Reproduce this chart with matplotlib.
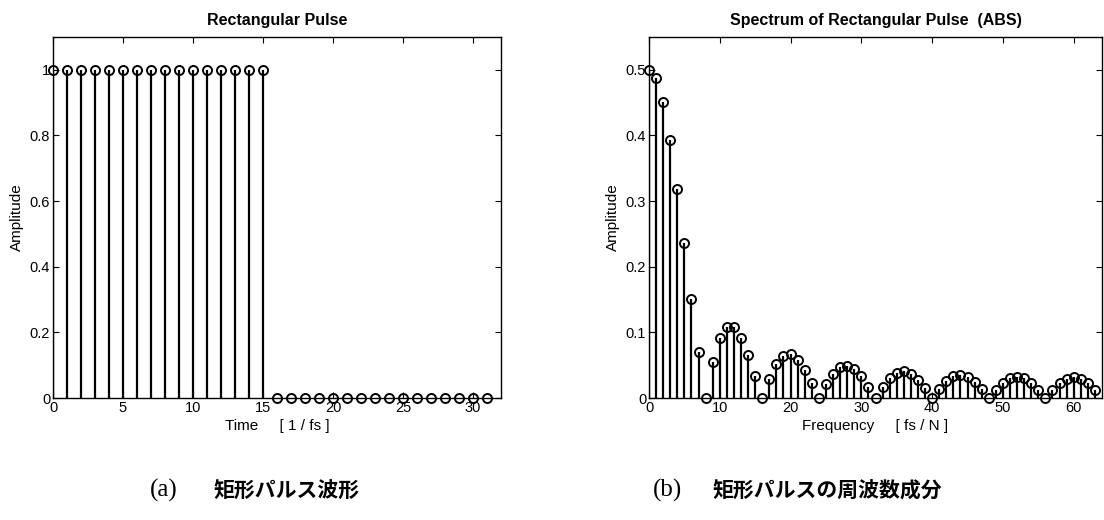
import matplotlib
matplotlib.use("Agg")
import matplotlib.pyplot as plt
import numpy as np

# ---- data ----
time_idx = list(range(32))
pulse_vals = [1]*16 + [0]*16

freq_idx = list(range(64))
spec_vals = [0.5000, 0.4873, 0.4503, 0.3925, 0.3188, 0.2359, 0.1506, 0.0700,
             0.0000, 0.0546, 0.0909, 0.1082, 0.1077, 0.0920, 0.0656, 0.0332,
             0.0000, 0.0295, 0.0517, 0.0642, 0.0663, 0.0586, 0.0430, 0.0224,
             0.0000, 0.0208, 0.0371, 0.0469, 0.0493, 0.0442, 0.0329, 0.0173,
             0.0000, 0.0165, 0.0298, 0.0381, 0.0404, 0.0366, 0.0275, 0.0146,
             0.0000, 0.0142, 0.0258, 0.0332, 0.0354, 0.0323, 0.0244, 0.0131,
             0.0000, 0.0128, 0.0235, 0.0304, 0.0327, 0.0300, 0.0228, 0.0123,
             0.0000, 0.0121, 0.0223, 0.0291, 0.0314, 0.0290, 0.0221, 0.0120]

left_xticks = [0, 5, 10, 15, 20, 25, 30]
left_yticks = [0, 0.2, 0.4, 0.6, 0.8, 1]
right_xticks = [0, 10, 20, 30, 40, 50, 60]
right_yticks = [0, 0.1, 0.2, 0.3, 0.4, 0.5]

plt.rcParams['font.family'] = ['Liberation Sans', 'DejaVu Sans']

W, H = 1104, 520
fig = plt.figure(figsize=(W/100, H/100), dpi=100)
fig.patch.set_facecolor('white')

def make_ax(l, r, t, b):
    return fig.add_axes([l/W, 1-b/H, (r-l)/W, (b-t)/H])

def style(ax, xt, yt):
    ax.set_xticks(xt)
    ax.set_yticks(yt)
    ax.set_yticklabels([('%g' % v) for v in yt])
    ax.tick_params(direction='in', top=True, right=True, length=4, width=0.8,
                   labelsize=10.5, colors='black', pad=2)
    for s in ax.spines.values():
        s.set_linewidth(1.0)
        s.set_color('black')

def draw_stem(ax, x, y):
    ml, sl, bl = ax.stem(x, y, basefmt=' ')
    plt.setp(sl, color='black', linewidth=1.6)
    plt.setp(ml, marker='o', markersize=6.5, markerfacecolor='none',
             markeredgecolor='black', markeredgewidth=1.4, clip_on=False)

# left
ax1 = make_ax(53, 501, 37, 398)
draw_stem(ax1, time_idx, pulse_vals)
ax1.set_xlim(0, 32)
ax1.set_ylim(0, 1.1)
style(ax1, left_xticks, left_yticks)
ax1.set_title('Rectangular Pulse', fontsize=11.5, fontweight='bold', pad=9)
ax1.set_xlabel('Time     [ 1 / fs ]', fontsize=11, labelpad=3)
ax1.set_ylabel('Amplitude', fontsize=11, labelpad=4)

# right
ax2 = make_ax(649, 1102, 37, 398)
draw_stem(ax2, freq_idx, spec_vals)
ax2.set_xlim(0, 64)
ax2.set_ylim(0, 0.55)
style(ax2, right_xticks, right_yticks)
ax2.set_title('Spectrum of Rectangular Pulse  (ABS)', fontsize=11.5, fontweight='bold', pad=9)
ax2.set_xlabel('Frequency     [ fs / N ]', fontsize=11, labelpad=3)
ax2.set_ylabel('Amplitude', fontsize=11, labelpad=4)

serif = ['Liberation Serif', 'DejaVu Serif']
jp = ['Noto Sans CJK JP', 'DejaVu Sans']
yc = 1 - 490/H
fig.text(150/W, yc, '(a)', fontsize=18, family=serif, ha='left', va='center')
fig.text(213/W, yc, '矩形パルス波形', fontsize=15, family=jp,
         ha='left', va='center', fontweight='bold')
fig.text(653/W, yc, '(b)', fontsize=18, family=serif, ha='left', va='center')
fig.text(712/W, yc, '矩形パルスの周波数成分', fontsize=15, family=jp,
         ha='left', va='center', fontweight='bold')

fig.savefig('out.png', dpi=100, facecolor='white')
